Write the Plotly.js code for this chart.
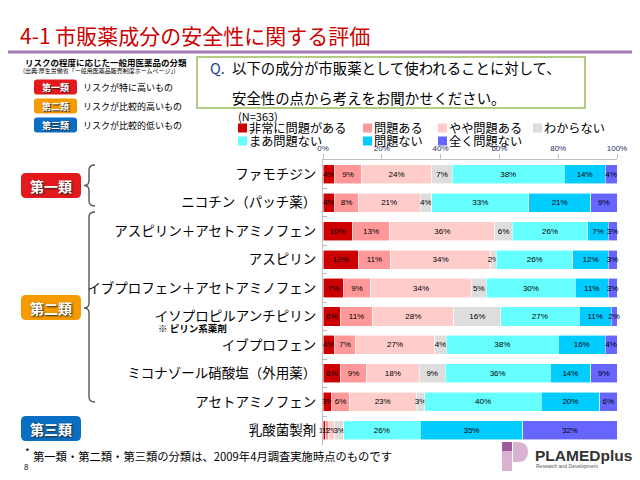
<!DOCTYPE html>
<html>
<head>
<meta charset="utf-8">
<script src="https://cdn.plot.ly/plotly-3.0.1.min.js"></script>
<style>html,body{margin:0;padding:0;background:#fff;}#chart{width:640px;height:480px;}</style>
</head>
<body>
<div id="chart"></div>
<script>
// ---- data ----
const categories = ['ファモチジン','ニコチン（パッチ薬）','アスピリン＋アセトアミノフェン','アスピリン','イブプロフェン＋アセトアミノフェン','イソプロピルアンチピリン','イブプロフェン','ミコナゾール硝酸塩（外用薬）','アセトアミノフェン','乳酸菌製剤'];
const seriesNames = ['非常に問題がある','問題ある','やや問題ある','わからない','まあ問題ない','問題ない','全く問題ない'];
const verySerious = [4,4,10,12,7,6,4,6,3,1];
const serious     = [9,8,13,11,9,11,7,9,6,1];
const somewhat    = [24,21,36,34,34,28,27,18,23,2];
const unknown     = [7,4,6,2,5,16,4,9,3,3];
const mostlyOk    = [38,33,26,26,30,27,38,36,40,26];
const ok          = [14,21,7,12,11,11,16,14,20,35];
const totallyOk   = [4,9,3,3,3,2,4,9,6,32];
const xTickVals = [0,20,40,60,80,100];
const xTickText = ['0%','20%','40%','60%','80%','100%'];

const seriesValues = [verySerious, serious, somewhat, unknown, mostlyOk, ok, totallyOk];
const colors = ['#CC0000','#FF9999','#FFCCCC','#DDDDDD','#66FFFF','#00CCFF','#6666FF'];

const W = 640, H = 480;
const X = p => p / W;
const Y = p => 1 - p / H;

const traces = seriesValues.map((vals, i) => ({
  type: 'bar',
  orientation: 'h',
  name: seriesNames[i],
  y: categories,
  x: vals,
  text: vals.map(v => String(v)),
  texttemplate: '%{text}%',
  textposition: 'inside',
  insidetextanchor: 'middle',
  textangle: 0,
  cliponaxis: false,
  textfont: {family: 'Liberation Sans, Arial, sans-serif', size: 8, color: '#000'},
  marker: {color: colors[i], line: {color: 'rgba(255,255,255,0.7)', width: 0.8}},
  hoverinfo: 'skip',
  showlegend: false
}));

const shapes = [];
const annotations = [];

function txt(x, y, text, size, opts) {
  opts = opts || {};
  annotations.push({
    xref: 'paper', yref: 'paper', x: X(x), y: Y(y), text: text, showarrow: false,
    xanchor: opts.xanchor || 'left', yanchor: 'middle',
    font: Object.assign({size: size, color: opts.color || '#000', family: opts.family || 'Noto Sans CJK JP'}, opts.font || {}),
    borderpad: 0
  });
}
function rect(x0, y0, x1, y1, fill, line) {
  shapes.push({type: 'rect', xref: 'paper', yref: 'paper', x0: X(x0), x1: X(x1), y0: Y(y1), y1: Y(y0),
    fillcolor: fill, line: line || {width: 0}, layer: 'above'});
}
function pathStr(cmds) {
  // cmds: array of [cmd, x, y, ...]
  return cmds.map(c => {
    const k = c[0];
    if (k === 'Z') return 'Z';
    const pts = [];
    for (let i = 1; i < c.length; i += 2) pts.push(X(c[i]).toFixed(5) + ',' + Y(c[i + 1]).toFixed(5));
    return k + pts.join(' ');
  }).join(' ');
}
function path(cmds, fill, line) {
  shapes.push({type: 'path', xref: 'paper', yref: 'paper', path: pathStr(cmds),
    fillcolor: fill || 'rgba(0,0,0,0)', line: line || {width: 0}, layer: 'above'});
}
function roundRect(x0, y0, x1, y1, r, fill) {
  path([['M', x0 + r, y0], ['L', x1 - r, y0], ['Q', x1, y0, x1, y0 + r], ['L', x1, y1 - r], ['Q', x1, y1, x1 - r, y1],
        ['L', x0 + r, y1], ['Q', x0, y1, x0, y1 - r], ['L', x0, y0 + r], ['Q', x0, y0, x0 + r, y0], ['Z']], fill);
}
function brace(x, top, bottom, mid) {
  path([['M', x + 6, top], ['Q', x, top, x, top + 5], ['L', x, mid - 5], ['Q', x, mid, x - 5, mid],
        ['Q', x, mid, x, mid + 5], ['L', x, bottom - 5], ['Q', x, bottom, x + 6, bottom]], null, {color: '#555', width: 1.4});
}

// Title
txt(19, 35, '4-1 市販薬成分の安全性に関する評価', 21, {color: '#CC0000'});
shapes.push({type: 'line', xref: 'paper', yref: 'paper', x0: X(8), x1: X(632), y0: Y(52), y1: Y(52), line: {color: '#A47AB4', width: 3}});

// Classification info box
txt(24, 62, 'リスクの程度に応じた一般用医薬品の分類', 8.5, {font: {weight: 'bold'}});
txt(22, 70, '(出典:厚生労働省「一般用医薬品販売制度ホームページ」)', 6, {});
const badgeColors = ['#E3191C', '#F59B00', '#0A6FC2'];
const badgeNames = ['第一類', '第二類', '第三類'];
const badgeDesc = ['リスクが特に高いもの', 'リスクが比較的高いもの', 'リスクが比較的低いもの'];
[87, 106, 125].forEach((cy, i) => {
  roundRect(34, cy - 7.5, 77, cy + 7.5, 3, badgeColors[i]);
  txt(55.5, cy, badgeNames[i], 9, {xanchor: 'center', color: '#fff', font: {weight: 'bold', shadow: '1px 1px 1px #222'}});
  txt(82, cy, badgeDesc[i], 9, {});
});

// Question box
rect(197, 57, 585, 108, '#fff', {color: '#9BBB59', width: 1.5});
txt(209, 68, 'Q.', 14.5, {color: '#1F497D'});
txt(231, 68, '以下の成分が市販薬として使われることに対して、', 14.4, {});
txt(231, 97, '安全性の点から考えをお聞かせください。', 14.4, {});

// Legend
txt(237, 116, '(N=363)', 11, {});
const legendPos = [[238, 128], [363, 128], [438, 128], [533, 128], [238, 141], [363, 141], [438, 141]];
seriesNames.forEach((n, i) => {
  const [lx, ly] = legendPos[i];
  rect(lx, ly - 4.5, lx + 9, ly + 4.5, colors[i]);
  txt(lx + 10, ly, n, 12.2, {});
});

// Category badges and braces
[[185.5, 0], [307.5, 1], [428.5, 2]].forEach(([cy, i]) => {
  roundRect(21, cy - 12.5, 81, cy + 12.5, 5, badgeColors[i]);
  txt(51, cy, badgeNames[i], 14, {xanchor: 'center', color: '#fff', font: {weight: 'bold', shadow: '1px 1px 2px #222'}});
});
brace(89, 165, 206, 185.5);
brace(89, 212, 402, 308);

// note under イソプロピルアンチピリン
txt(157, 328, '※ ピリン系薬剤', 9.5, {font: {weight: 'bold'}});

// Footnote
txt(24, 451, '*', 10, {});
txt(32, 456, '第一類・第二類・第三類の分類は、2009年4月調査実施時点のものです', 11.3, {});
txt(23, 466, '8', 8, {});

// Logo
path([['M', 512, 442], ['L', 518, 442], ['Q', 528, 442, 528, 452], ['Q', 528, 462, 518, 462], ['L', 513, 462], ['L', 513, 442], ['Z']], '#D9B2D2');
rect(502, 451, 512, 471, '#D9B2D2');
rect(502, 442, 512, 451, '#9C5C9C');
txt(534, 455, 'PLAMEDplus', 15.5, {family: 'Liberation Sans, Arial, sans-serif', color: '#333', font: {weight: 'bold'}});
txt(535, 466, 'Research and Development', 5, {family: 'Liberation Sans, Arial, sans-serif', color: '#555'});

const layout = {
  width: W, height: H,
  margin: {l: 0, r: 0, t: 0, b: 0, autoexpand: false},
  paper_bgcolor: '#fff', plot_bgcolor: '#fff',
  font: {family: 'Noto Sans CJK JP, sans-serif', color: '#000'},
  barmode: 'stack', barnorm: 'percent', bargap: 0.33,
  showlegend: false,
  hovermode: false,
  uniformtext: {mode: 'show', minsize: 8},
  xaxis: {
    domain: [X(323), X(617)], range: [0, 100], side: 'top', fixedrange: true,
    tickvals: xTickVals, ticktext: xTickText, tickfont: {size: 8, color: '#1F2F5F', family: 'Liberation Sans, Arial, sans-serif'},
    showline: true, linecolor: '#BFBFBF', linewidth: 1, ticks: 'outside', ticklen: 5, tickcolor: '#BFBFBF',
    showgrid: false, zeroline: false, automargin: false
  },
  yaxis: {
    domain: [Y(444.5), Y(160)], type: 'category', autorange: 'reversed', fixedrange: true,
    tickfont: {size: 13.5, color: '#000'}, ticklabelstandoff: 3,
    showline: true, linecolor: '#BFBFBF', linewidth: 1, ticks: 'inside', tickson: 'boundaries', ticklen: 4, tickcolor: '#BFBFBF',
    showgrid: false, zeroline: false, automargin: false
  },
  shapes: shapes,
  annotations: annotations
};

Plotly.newPlot('chart', traces, layout, {displayModeBar: false, staticPlot: true});
</script>
</body>
</html>
